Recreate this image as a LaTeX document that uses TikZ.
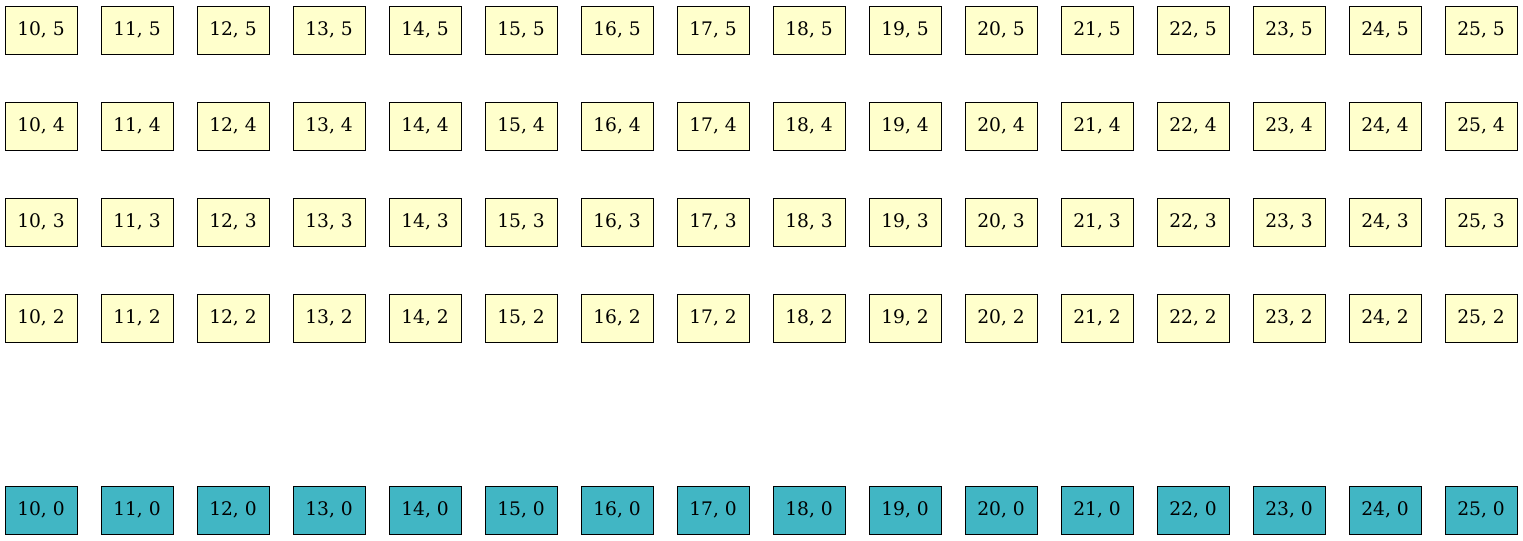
\documentclass[tikz,border=0pt]{standalone}
\usepackage{fontspec}
\setmainfont{DejaVu Serif}
\usepackage{tikz}
\usetikzlibrary{positioning}
\definecolor{cellyellow}{HTML}{FFFFCC}
\definecolor{cellteal}{HTML}{41B6C4}

\begin{document}
\begin{tikzpicture}[x=0.75pt,y=-0.75pt]
\tikzstyle{cell}=[draw,rectangle,fill=cellyellow,line width=0.6pt,minimum width=54pt,minimum height=36pt,inner sep=0pt,font=\fontsize{14}{16}\selectfont]
\tikzstyle{base}=[cell,fill=cellteal]
\useasboundingbox (0,0) rectangle (1523,541);
% rows 5 down to 2
\foreach \r [count=\k from 0] in {5,4,3,2}
  \foreach \c [count=\i from 0] in {10,...,25}
    \node [cell] (n\c-\r) at (41+96*\i,30+96*\k) {\c, \r};
% bottom row
\foreach \c [count=\i from 0] in {10,...,25}
  \node [base] (n\c-0) at (41+96*\i,510) {\c, 0};
\end{tikzpicture}
\end{document}
